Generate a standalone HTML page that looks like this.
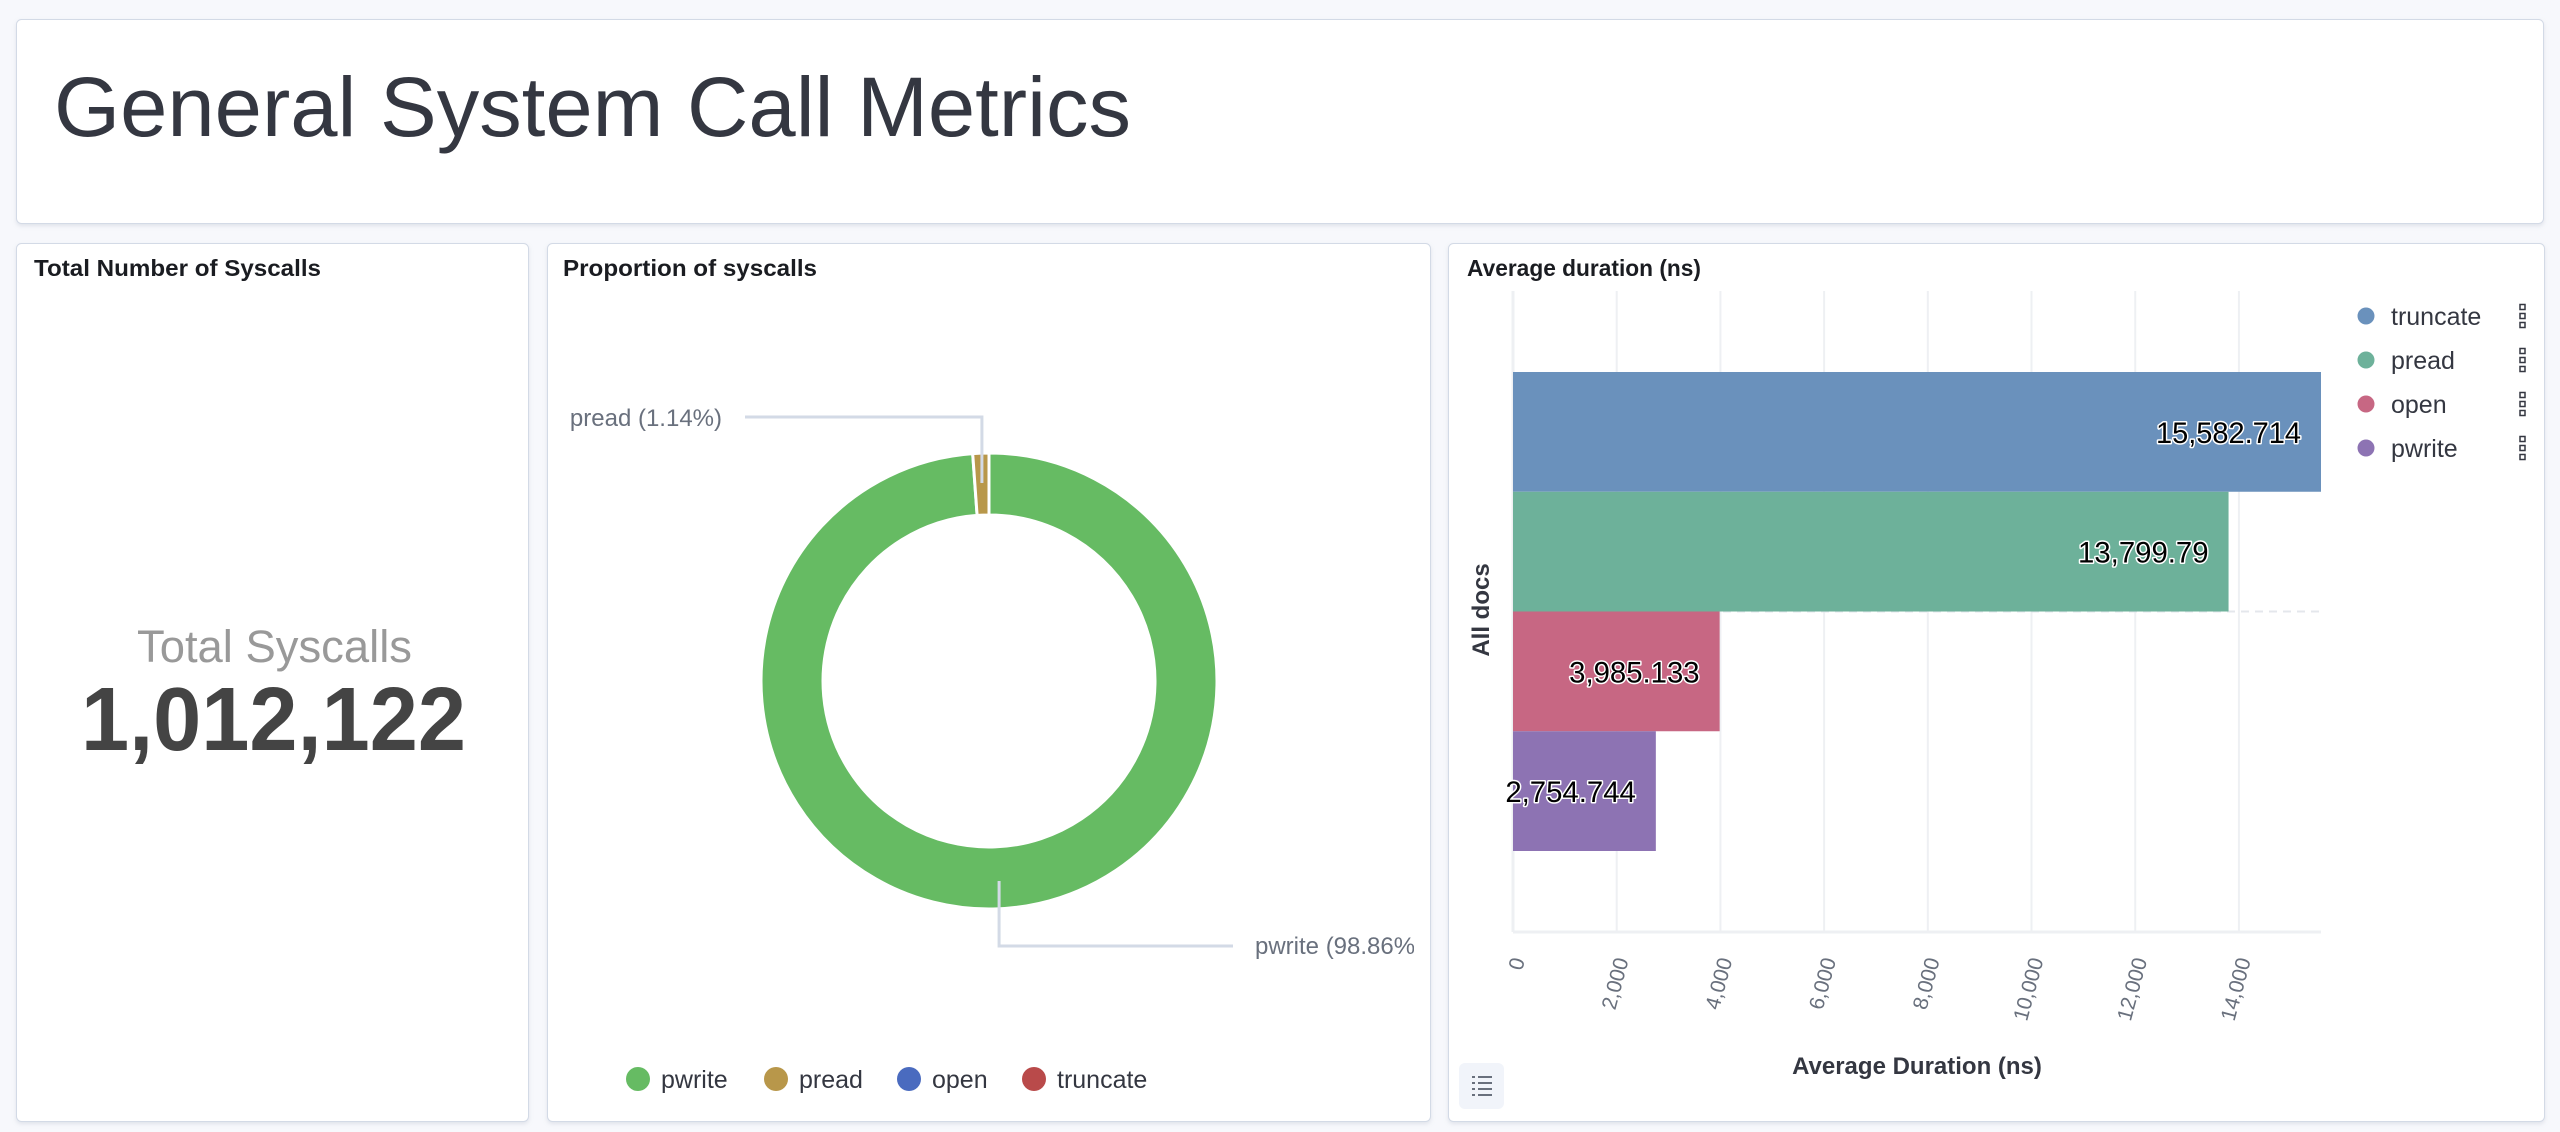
<!DOCTYPE html>
<html><head><meta charset="utf-8"><style>
html,body{margin:0;padding:0;background:#f7f8fc;}
svg{display:block;font-family:"Liberation Sans",sans-serif;}
</style></head><body>
<svg id="root" width="2560" height="1132" viewBox="0 0 2560 1132">
<defs>
<filter id="sh" x="-5%" y="-5%" width="110%" height="110%"><feDropShadow dx="0" dy="2" stdDeviation="2" flood-color="#98a2b3" flood-opacity="0.25"/></filter>
<clipPath id="pclip"><rect x="548" y="244" width="866" height="876"/></clipPath>
</defs>
<rect x="0" y="0" width="2560" height="1132" fill="#f7f8fc"/>
<g>
<rect x="16.5" y="19.5" width="2527" height="204" rx="5" fill="#fff" stroke="#d3dae6" filter="url(#sh)"/>
<text x="54" y="136" font-size="84" fill="#343741" textLength="1077" lengthAdjust="spacingAndGlyphs">General System Call Metrics</text>
</g>
<g>
<rect x="16.5" y="243.5" width="512" height="878" rx="5" fill="#fff" stroke="#d3dae6" filter="url(#sh)"/>
<text x="34" y="276" font-size="23" font-weight="bold" fill="#1a1c21" textLength="287" lengthAdjust="spacingAndGlyphs">Total Number of Syscalls</text>
<text x="137" y="662" font-size="45" fill="#999999" textLength="275" lengthAdjust="spacingAndGlyphs">Total Syscalls</text>
<text x="81" y="750" font-size="90" font-weight="bold" fill="#444444" textLength="385" lengthAdjust="spacingAndGlyphs">1,012,122</text>
</g>
<g>
<rect x="547.5" y="243.5" width="883" height="878" rx="5" fill="#fff" stroke="#d3dae6" filter="url(#sh)"/>
<text x="563" y="276" font-size="23" font-weight="bold" fill="#1a1c21" textLength="254" lengthAdjust="spacingAndGlyphs">Proportion of syscalls</text>
<g id="donut" clip-path="url(#pclip)"></g>
<g id="pielegend"></g>
</g>
<g>
<rect x="1448.5" y="243.5" width="1096" height="878" rx="5" fill="#fff" stroke="#d3dae6" filter="url(#sh)"/>
<text x="1467" y="276" font-size="23" font-weight="bold" fill="#1a1c21" textLength="234" lengthAdjust="spacingAndGlyphs">Average duration (ns)</text>
<g id="bars"></g>
<text transform="translate(1489,610) rotate(-90)" text-anchor="middle" font-size="24" font-weight="bold" fill="#343741">All docs</text>
<text x="1917" y="1074" text-anchor="middle" font-size="24" font-weight="bold" fill="#343741">Average Duration (ns)</text>
<g>
<rect x="1459" y="1063" width="45" height="46" rx="6" fill="#f1f4fa"/>
<g stroke="#69707d" stroke-width="2">
<line x1="1472" y1="1077" x2="1475" y2="1077"/><line x1="1478" y1="1077" x2="1492" y2="1077"/>
<line x1="1472" y1="1083" x2="1475" y2="1083"/><line x1="1478" y1="1083" x2="1492" y2="1083"/>
<line x1="1472" y1="1089" x2="1475" y2="1089"/><line x1="1478" y1="1089" x2="1492" y2="1089"/>
<line x1="1472" y1="1095" x2="1475" y2="1095"/><line x1="1478" y1="1095" x2="1492" y2="1095"/>
</g></g>
<g id="barlegend"></g>
</g>
</svg>
<script>
const NS="http://www.w3.org/2000/svg";
function mk(tag,attrs,parent){const e=document.createElementNS(NS,tag);for(const k in attrs)e.setAttribute(k,attrs[k]);parent.appendChild(e);return e;}

// ---- Donut data ----
const pieCategories=["pwrite","pread"];
const pieValues=[98.86,1.14];
const pieColors=["#66bb63","#b8974a"];
const pieLegendNames=["pwrite","pread","open","truncate"];
const pieLegendColors=["#66bb63","#b8974a","#4a6bbf","#b94a4a"];

// ---- Bar data ----
const barCategories=["truncate","pread","open","pwrite"];
const barValues=[15582.714,13799.79,3985.133,2754.744];
const barLabels=["15,582.714","13,799.79","3,985.133","2,754.744"];
const barColors=["#6a91bc","#6db19a","#c76783","#8d73b3"];
const xTicks=[0,2000,4000,6000,8000,10000,12000,14000];
const xTickLabels=["0","2,000","4,000","6,000","8,000","10,000","12,000","14,000"];

// Donut
const donut=document.getElementById('donut');
const cx=989,cy=681,R=228,r=166;
const total=pieValues.reduce((a,b)=>a+b,0);
function pt(rad,ang){return [cx+rad*Math.sin(ang),cy-rad*Math.cos(ang)];}
let a0=0;
pieValues.forEach((v,i)=>{
  const a1=a0+v/total*2*Math.PI;
  const large=(a1-a0)>Math.PI?1:0;
  const p1=pt(R,a0),p2=pt(R,a1),p3=pt(r,a1),p4=pt(r,a0);
  const p=mk('path',{d:`M${p1}A${R},${R} 0 ${large} 1 ${p2}L${p3}A${r},${r} 0 ${large} 0 ${p4}Z`,fill:pieColors[i],stroke:'#fff','stroke-width':3},donut);
  
  
  const mid=(a0+a1)/2;
  const lbl=pieCategories[i]+' ('+v.toFixed(2)+'%)';
  if(Math.cos(mid)>0){
    const s=pt(R-30,mid);
    const l=mk('polyline',{points:`${s[0]},${cy-R+30} ${s[0]},417 745,417`,fill:'none',stroke:'#d3dae6','stroke-width':3},donut);
    
    
    const t=mk('text',{x:722,y:426,'text-anchor':'end','font-size':24,fill:'#69707d'},donut);
    t.textContent=lbl;
    
    
  } else {
    const s=pt(R-30,mid);
    const l=mk('polyline',{points:`${s[0]+3},${cy+R-28} ${s[0]+3},946 1233,946`,fill:'none',stroke:'#d3dae6','stroke-width':3},donut);
    
    
    const t=mk('text',{x:1255,y:954,'font-size':24,fill:'#69707d'},donut);
    t.textContent=lbl;
    
    
  }
  a0=a1;
});
const pl=document.getElementById('pielegend');
const plx=[638,776,909,1034];
pieLegendNames.forEach((n,i)=>{
  const g=mk('g',{},pl);
  
  
  mk('circle',{cx:plx[i],cy:1079,r:12,fill:pieLegendColors[i]},g);
  const t=mk('text',{x:plx[i]+23,y:1088,'font-size':25,fill:'#343741'},g);
  t.textContent=n;
});

// Bars
const bars=document.getElementById('bars');
const px0=1513,px1=2321,py0=291,py1=932;
const xMax=Math.max(...barValues);
const xs=v=>px0+v/xMax*(px1-px0);
const pad=81,bh=(py1-py0-2*pad)/barCategories.length;
xTicks.forEach((tk,i)=>{
  const x=xs(tk);
  const gl=mk('line',{x1:x,y1:py0,x2:x,y2:py1,stroke:'#eef0f3','stroke-width':2},bars);
  
  
  const t=mk('text',{transform:`translate(${x+12},${960}) rotate(-75)`,'text-anchor':'end','font-size':21,fill:'#69707d'},bars);
  t.textContent=xTickLabels[i];
  
  
});
const ax=mk('line',{x1:px0,y1:py1,x2:px1,y2:py1,stroke:'#eef0f3','stroke-width':3},bars);


const ay=mk('line',{x1:px0,y1:py0,x2:px0,y2:py1,stroke:'#eef0f3','stroke-width':3},bars);


const dl=mk('line',{x1:px0,y1:py0+pad+2*bh,x2:px1,y2:py0+pad+2*bh,stroke:'#e4e7ec','stroke-width':2,'stroke-dasharray':'8,6'},bars);


barValues.forEach((v,i)=>{
  const y=py0+pad+i*bh;
  const b=mk('rect',{x:px0,y:y,width:xs(v)-px0,height:bh,fill:barColors[i]},bars);
  
  
  const t=mk('text',{x:xs(v)-20,y:y+bh/2+11,'text-anchor':'end','font-size':30,fill:'#000',stroke:'#fff','stroke-width':3,'paint-order':'stroke','stroke-linejoin':'round',textLength:barLabels[i].length*14.5,lengthAdjust:'spacingAndGlyphs'},bars);
  t.textContent=barLabels[i];
  
  
});
const bl=document.getElementById('barlegend');
barCategories.forEach((n,i)=>{
  const y=316+i*44;
  const g=mk('g',{},bl);
  
  
  mk('circle',{cx:2366,cy:y,r:8.5,fill:barColors[i]},g);
  const t=mk('text',{x:2391,y:y+9,'font-size':25,fill:'#343741'},g);
  t.textContent=n;
  const k=mk('g',{fill:'none',stroke:'#343741','stroke-width':1.5},g);
  
  
  [-9,0,9].forEach(d=>mk('rect',{x:2520,y:y+d-2.5,width:5,height:5},k));
});
</script>
</body></html>
